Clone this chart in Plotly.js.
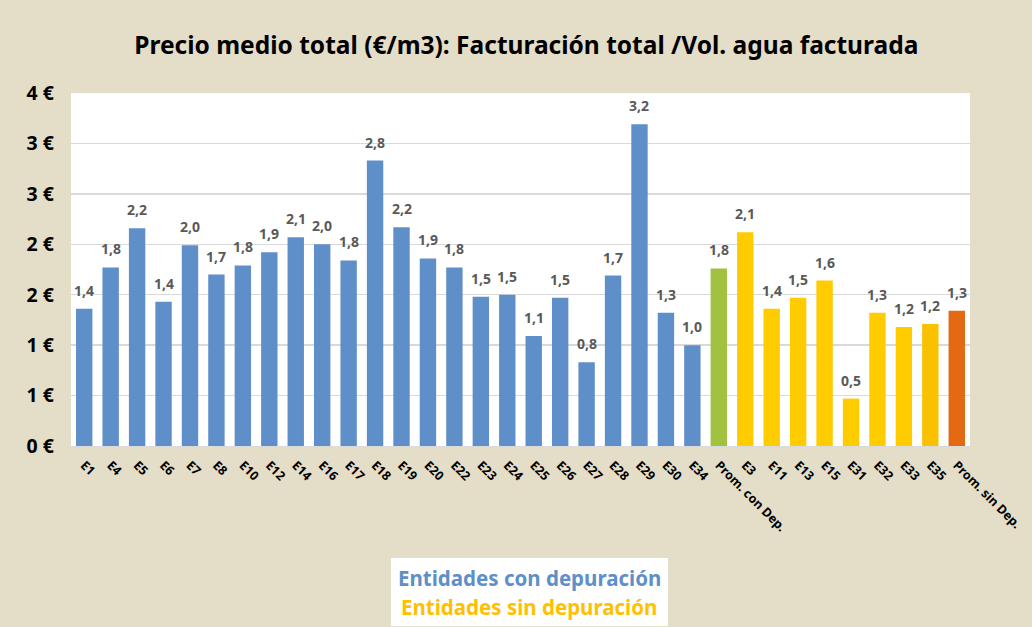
<!DOCTYPE html>
<html>
<head>
<meta charset="utf-8">
<script src="https://cdn.plot.ly/plotly-3.0.1.min.js"></script>
<style>html,body{margin:0;padding:0;background:#E4DDC8;}#chart{width:1032px;height:627px;}</style>
</head>
<body>
<div id="chart"></div>
<script>
const categories = ["E1","E4","E5","E6","E7","E8","E10","E12","E14","E16","E17","E18","E19","E20","E22","E23","E24","E25","E26","E27","E28","E29","E30","E34","Prom. con Dep.","E3","E11","E13","E15","E31","E32","E33","E35","Prom. sin Dep."];
const values = [1.36,1.77,2.16,1.43,1.99,1.70,1.79,1.92,2.07,2.00,1.84,2.83,2.17,1.86,1.77,1.48,1.50,1.09,1.47,0.83,1.69,3.19,1.32,1.00,1.76,2.12,1.36,1.47,1.64,0.47,1.32,1.18,1.21,1.34];
const groups = ["con","con","con","con","con","con","con","con","con","con","con","con","con","con","con","con","con","con","con","con","con","con","con","con","promCon","sin","sin","sin","sin","sin","sin","sin","sin2","promSin"];
const yTickVals = [0,0.5,1,1.5,2,2.5,3,3.5];
const yTickText = ["0 €","1 €","1 €","2 €","2 €","3 €","3 €","4 €"];
const titleText = "Precio medio total (€/m3): Facturación total /Vol. agua facturada";
const legendLines = ["Entidades con depuración","Entidades sin depuración"];

const colorMap = {con:"#5F8FC8", promCon:"#A1C23E", sin:"#FFCC00", sin2:"#FAC100", promSin:"#E36912"};
const colors = groups.map(g => colorMap[g]);
const labels = values.map(v => v.toFixed(1).replace(".", ","));

const trace = {
  type: "bar",
  x: categories,
  y: values,
  marker: {color: colors},
  hoverinfo: "x+y"
};

const annotations = categories.map((c, i) => ({
  x: c, y: values[i], xref: "x", yref: "y",
  text: "<b>" + labels[i] + "</b>",
  showarrow: false, yanchor: "bottom", yshift: 7,
  font: {family: "Noto Sans", size: 14, color: "#595959"}
}));

annotations.push({
  xref: "paper", yref: "paper", x: (529 - 71) / 899, y: -(578 - 446) / 353,
  xanchor: "center", yanchor: "middle",
  text: "<b>" + legendLines[0] + "</b>", showarrow: false,
  font: {family: "Noto Sans", size: 20.5, color: "#5F8FC8"}
});
annotations.push({
  xref: "paper", yref: "paper", x: (529 - 71) / 899, y: -(607 - 446) / 353,
  xanchor: "center", yanchor: "middle",
  text: "<b>" + legendLines[1] + "</b>", showarrow: false,
  font: {family: "Noto Sans", size: 20.5, color: "#FFC000"}
});

const layout = {
  width: 1032, height: 627,
  paper_bgcolor: "#E4DDC8",
  plot_bgcolor: "#FFFFFF",
  margin: {l: 71, r: 62, t: 93, b: 181},
  title: {
    text: "<b>" + titleText + "</b>",
    x: 0.51, xanchor: "center", y: 0.928, yanchor: "middle",
    font: {family: "Noto Sans", size: 24.5, color: "#000000"}
  },
  bargap: 0.38,
  showlegend: false,
  xaxis: {
    type: "category",
    tickangle: 45,
    tickfont: {family: "Noto Sans", size: 12.5, color: "#000000", weight: "bold"},
    showgrid: false,
    showline: true, linecolor: "#D9D9D9", linewidth: 1,
    ticks: "", automargin: false, ticklabelstandoff: 6
  },
  yaxis: {
    range: [0, 3.5],
    tickvals: yTickVals, ticktext: yTickText,
    tickfont: {family: "Noto Sans", size: 19.5, color: "#000000", weight: "bold"},
    gridcolor: "#D9D9D9", gridwidth: 1.5,
    zeroline: false, ticks: "", ticklen: 0, automargin: false,
    ticklabelstandoff: 16
  },
  shapes: [{
    type: "rect", xref: "paper", yref: "paper",
    x0: (391 - 71) / 899, x1: (668 - 71) / 899,
    y0: -(626 - 446) / 353, y1: -(558 - 446) / 353,
    fillcolor: "#FFFFFF", line: {width: 0}, layer: "below"
  }],
  annotations: annotations
};

Plotly.newPlot("chart", [trace], layout, {displayModeBar: false, staticPlot: true});
</script>
</body>
</html>
